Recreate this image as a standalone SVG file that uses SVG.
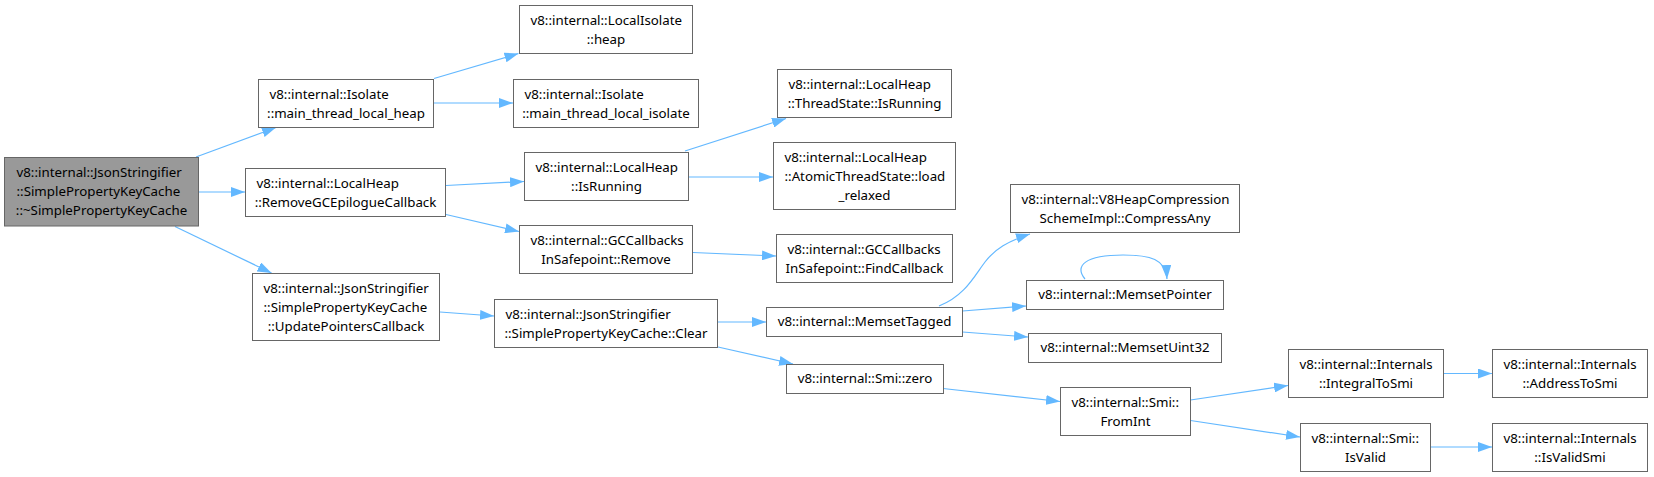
<svg xmlns="http://www.w3.org/2000/svg" width="1654" height="477" viewBox="0 0 1654 477">
<style>
.n rect{fill:#ffffff;stroke:#666666;stroke-width:1}
.n.root rect{fill:#999999}
text{font-family:"Noto Sans","DejaVu Sans",sans-serif;font-size:13.3px;fill:#000000}
.m{text-anchor:middle}
.e{fill:none;stroke:#63b8ff;stroke-width:1.2;marker-end:url(#ah)}
</style>
<defs>
<marker id="ah" viewBox="0 0 14 10" refX="14" refY="5" markerWidth="14" markerHeight="10" markerUnits="userSpaceOnUse" orient="auto">
<path d="M0,0 L14,5 L0,10 z" fill="#63b8ff"/>
</marker>
</defs>
<rect width="1654" height="477" fill="#ffffff"/>
<g id="edges">
<path class="e" d="M196,157 L276,127.5"/>
<path class="e" d="M198.5,192 L245,192"/>
<path class="e" d="M175,226.5 L271.5,273"/>
<path class="e" d="M434,78.5 L518.5,53.5"/>
<path class="e" d="M433.5,103 L513,103"/>
<path class="e" d="M446,185.5 L524,181.5"/>
<path class="e" d="M446,214.5 L519,231.5"/>
<path class="e" d="M685,151 L786,118.5"/>
<path class="e" d="M688.5,177 L773,177"/>
<path class="e" d="M693,252.5 L776,256"/>
<path class="e" d="M440,312 L494,316"/>
<path class="e" d="M718,322 L766,322"/>
<path class="e" d="M718,347 L793,364"/>
<path class="e" d="M939,306 C965,296 975,275 985,262 C995,249 1008,241 1030,234"/>
<path class="e" d="M962.5,311 L1026,306"/>
<path class="e" d="M962.5,332 L1028,337"/>
<path class="e" d="M1085,279 C1074,266 1085,255 1123,255 C1150,255 1166,259 1167,279"/>
<path class="e" d="M943,388.5 L1060,401.5"/>
<path class="e" d="M1190.5,400 L1288,385.5"/>
<path class="e" d="M1190.5,420.5 L1300,437"/>
<path class="e" d="M1444,373.5 L1492,373.5"/>
<path class="e" d="M1430.5,447 L1492,447"/>
</g>
<g id="n0" class="n root"><rect x="4.5" y="157.5" width="194" height="68.5"/>
<text x="16.5" y="177.25">v8::internal::JsonStringifier</text>
<text x="16.5" y="196.25">::SimplePropertyKeyCache</text>
<text class="m" x="101.5" y="215.25">::~SimplePropertyKeyCache</text></g>
<g id="n1" class="n"><rect x="258.5" y="79.5" width="175" height="48"/>
<text x="269.5" y="98.5">v8::internal::Isolate</text>
<text class="m" x="346" y="117.5">::main_thread_local_heap</text></g>
<g id="n2" class="n"><rect x="245.5" y="168.5" width="200" height="48"/>
<text x="256.5" y="187.5">v8::internal::LocalHeap</text>
<text class="m" x="345.5" y="206.5">::RemoveGCEpilogueCallback</text></g>
<g id="n3" class="n"><rect x="252.5" y="273.5" width="187" height="67"/>
<text x="263.5" y="292.5">v8::internal::JsonStringifier</text>
<text x="263.5" y="311.5">::SimplePropertyKeyCache</text>
<text class="m" x="346" y="330.5">::UpdatePointersCallback</text></g>
<g id="n4" class="n"><rect x="519.5" y="5.5" width="173" height="48"/>
<text x="530.5" y="24.5">v8::internal::LocalIsolate</text>
<text class="m" x="606" y="43.5">::heap</text></g>
<g id="n5" class="n"><rect x="513.5" y="79.5" width="185" height="48"/>
<text x="524.5" y="98.5">v8::internal::Isolate</text>
<text class="m" x="606" y="117.5">::main_thread_local_isolate</text></g>
<g id="n6" class="n"><rect x="524.5" y="152.5" width="164" height="48"/>
<text x="535.5" y="171.5">v8::internal::LocalHeap</text>
<text class="m" x="606.5" y="190.5">::IsRunning</text></g>
<g id="n7" class="n"><rect x="777.5" y="69.5" width="174" height="48"/>
<text x="788.5" y="88.5">v8::internal::LocalHeap</text>
<text class="m" x="864.5" y="107.5">::ThreadState::IsRunning</text></g>
<g id="n8" class="n"><rect x="773.5" y="142.5" width="182" height="67"/>
<text x="784.5" y="161.5">v8::internal::LocalHeap</text>
<text x="784.5" y="180.5">::AtomicThreadState::load</text>
<text class="m" x="864.5" y="199.5">_relaxed</text></g>
<g id="n9" class="n"><rect x="519.5" y="225.5" width="173" height="48"/>
<text x="530.5" y="244.5">v8::internal::GCCallbacks</text>
<text class="m" x="606" y="263.5">InSafepoint::Remove</text></g>
<g id="n10" class="n"><rect x="776.5" y="234.5" width="176" height="48"/>
<text x="787.5" y="253.5">v8::internal::GCCallbacks</text>
<text class="m" x="864.5" y="272.5">InSafepoint::FindCallback</text></g>
<g id="n11" class="n"><rect x="494.5" y="299.5" width="223" height="48"/>
<text x="505.5" y="318.5">v8::internal::JsonStringifier</text>
<text class="m" x="606" y="337.5">::SimplePropertyKeyCache::Clear</text></g>
<g id="n12" class="n"><rect x="766.5" y="307.5" width="196" height="29"/>
<text class="m" x="864.5" y="326">v8::internal::MemsetTagged</text></g>
<g id="n13" class="n"><rect x="786.5" y="364.5" width="157" height="29"/>
<text class="m" x="865" y="383">v8::internal::Smi::zero</text></g>
<g id="n14" class="n"><rect x="1010.5" y="184.5" width="229" height="48"/>
<text x="1021.5" y="203.5">v8::internal::V8HeapCompression</text>
<text class="m" x="1125" y="222.5">SchemeImpl::CompressAny</text></g>
<g id="n15" class="n"><rect x="1026.5" y="280.5" width="197" height="29"/>
<text class="m" x="1125" y="299">v8::internal::MemsetPointer</text></g>
<g id="n16" class="n"><rect x="1028.5" y="333.5" width="193" height="29"/>
<text class="m" x="1125" y="352">v8::internal::MemsetUint32</text></g>
<g id="n17" class="n"><rect x="1060.5" y="387.5" width="130" height="48"/>
<text x="1071.5" y="406.5">v8::internal::Smi::</text>
<text class="m" x="1125.5" y="425.5">FromInt</text></g>
<g id="n18" class="n"><rect x="1288.5" y="349.5" width="155" height="48"/>
<text x="1299.5" y="368.5">v8::internal::Internals</text>
<text class="m" x="1366" y="387.5">::IntegralToSmi</text></g>
<g id="n19" class="n"><rect x="1492.5" y="349.5" width="155" height="48"/>
<text x="1503.5" y="368.5">v8::internal::Internals</text>
<text class="m" x="1570" y="387.5">::AddressToSmi</text></g>
<g id="n20" class="n"><rect x="1300.5" y="423.5" width="130" height="48"/>
<text x="1311.5" y="442.5">v8::internal::Smi::</text>
<text class="m" x="1365.5" y="461.5">IsValid</text></g>
<g id="n21" class="n"><rect x="1492.5" y="423.5" width="155" height="48"/>
<text x="1503.5" y="442.5">v8::internal::Internals</text>
<text class="m" x="1570" y="461.5">::IsValidSmi</text></g>
</svg>
